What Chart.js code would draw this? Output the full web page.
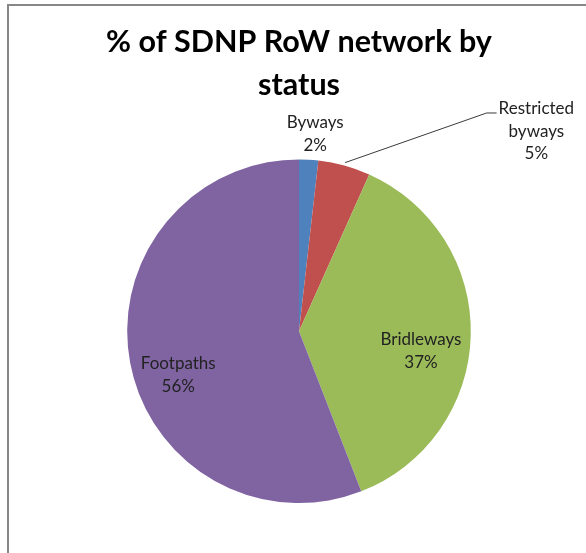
<!DOCTYPE html>
<html>
<head>
<meta charset="utf-8">
<title>% of SDNP RoW network by status</title>
<script src="https://cdn.jsdelivr.net/npm/chart.js@4.4.1/dist/chart.umd.min.js"></script>
<style>
  html, body { margin: 0; padding: 0; background: #fff; }
  #wrap { position: relative; width: 586px; height: 553px; }
</style>
</head>
<body>
<div id="wrap"><canvas id="pie"></canvas></div>
<script>
// data
const statuses = ["Byways", "Restricted byways", "Bridleways", "Footpaths"];
const labelLines = [["Byways"], ["Restricted", "byways"], ["Bridleways"], ["Footpaths"]];
const shares = [1.8, 4.9, 37.4, 55.9];
const sliceColors = ["#4F81BD", "#C0504D", "#9BBB59", "#8064A2"];
const titleLines = ["% of SDNP RoW network by", "status"];

// where each label sits: fraction of the radius along the slice middle, then a nudge
const labelPlace = [
  { f: 1.15, dx: 5, dy: 0, leader: false },
  { f: 1.0, dx: 192, dy: -34, leader: true },
  { f: 0.71, dx: 0, dy: 17, leader: false },
  { f: 0.715, dx: 0, dy: 21, leader: false },
];

const frame = {
  id: "frame",
  beforeDraw(chart) {
    const ctx = chart.ctx;
    ctx.save();
    ctx.strokeStyle = "#878787";
    ctx.lineWidth = 2;
    ctx.strokeRect(8, 5, 700, 700);
    ctx.restore();
  },
};

const sliceLabels = {
  id: "sliceLabels",
  afterDatasetsDraw(chart) {
    const ctx = chart.ctx;
    const arcs = chart.getDatasetMeta(0).data;
    const total = shares.reduce((a, b) => a + b, 0);
    const lh = 22.5;
    ctx.save();
    ctx.font = "17px Lato";
    ctx.fillStyle = "#222";
    ctx.textAlign = "center";
    ctx.textBaseline = "middle";
    arcs.forEach((arc, i) => {
      const p = arc.getProps(["x", "y", "startAngle", "endAngle", "outerRadius"], true);
      const mid = (p.startAngle + p.endAngle) / 2;
      const ax = p.x + Math.cos(mid) * p.outerRadius * labelPlace[i].f;
      const ay = p.y + Math.sin(mid) * p.outerRadius * labelPlace[i].f;
      const cx = ax + labelPlace[i].dx;
      const cy = ay + labelPlace[i].dy;
      const lines = labelLines[i].concat([Math.round(shares[i] / total * 100) + "%"]);
      const top = cy - (lines.length - 1) * lh / 2;
      lines.forEach((t, k) => ctx.fillText(t, cx, top + k * lh));

      if (labelPlace[i].leader) {
        let w = 0;
        lines.forEach((t) => { w = Math.max(w, ctx.measureText(t).width); });
        const sx = p.x + Math.cos(mid) * (p.outerRadius + 3);
        const sy = p.y + Math.sin(mid) * (p.outerRadius + 3);
        const ex = cx - w / 2 - 2;
        const ey = top + 4;
        ctx.strokeStyle = "#3a3a3a";
        ctx.lineWidth = 1;
        ctx.beginPath();
        ctx.moveTo(sx, sy);
        ctx.lineTo(ex - 10, ey);
        ctx.lineTo(ex, ey);
        ctx.stroke();
      }
    });
    ctx.restore();
  },
};

new Chart(document.getElementById("pie"), {
  type: "pie",
  data: {
    labels: statuses,
    datasets: [
      {
        data: shares,
        backgroundColor: sliceColors,
        borderWidth: 0,
      },
    ],
  },
  options: {
    responsive: true,
    maintainAspectRatio: false,
    devicePixelRatio: 1,
    animation: false,
    // wide padded box so the title is not squeezed; pie still centred at x=299
    layout: { padding: { left: 20, right: 8, top: 0, bottom: 50 } },
    plugins: {
      legend: { display: false },
      tooltip: { enabled: false },
      title: {
        display: true,
        text: titleLines,
        color: "#000",
        font: { family: "Lato", size: 30.5, weight: "bold", lineHeight: 1.4 },
        padding: { top: 21, bottom: 53 },
      },
    },
  },
  plugins: [frame, sliceLabels],
});
</script>
</body>
</html>
